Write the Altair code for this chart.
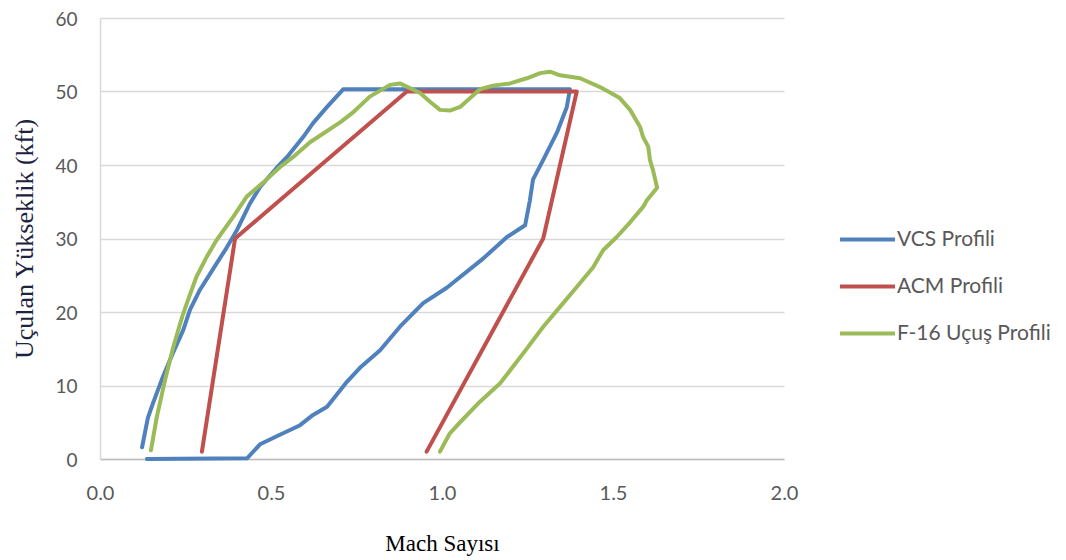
import altair as alt
import pandas as pd

series_names = ["VCS Profili", "ACM Profili", "F-16 Uçuş Profili"]
colors = ["#4F81BD", "#C0504D", "#9BBB59"]

vcs_mach = [0.123, 0.140, 0.155, 0.184, 0.213, 0.243, 0.263, 0.292, 0.330, 0.371, 0.401,
            0.439, 0.468, 0.518, 0.547, 0.594, 0.623, 0.664, 0.711, 1.374, 1.365, 1.336,
            1.296, 1.266, 1.257, 1.243, 1.190, 1.121, 1.014, 0.945, 0.877, 0.819, 0.760,
            0.722, 0.664, 0.623, 0.585, 0.526, 0.468, 0.430, 0.137]
vcs_alt = [1.6, 5.6, 7.6, 11.2, 14.4, 17.5, 20.3, 23.0, 25.8, 28.8, 31.2,
           34.8, 37.0, 39.7, 41.1, 43.8, 45.7, 47.9, 50.3, 50.3, 47.9, 44.4,
           40.7, 38.0, 35.2, 31.8, 30.2, 27.3, 23.3, 21.2, 18.0, 14.8, 12.4,
           10.5, 7.1, 6.0, 4.6, 3.3, 2.0, 0.1, 0.0]

acm_mach = [0.298, 0.395, 0.897, 1.394, 1.296, 0.955]
acm_alt = [1.0, 30.0, 50.0, 50.0, 30.0, 1.0]

f16_mach = [0.149, 0.166, 0.190, 0.214, 0.240, 0.254, 0.282, 0.312, 0.341, 0.389, 0.429,
            0.477, 0.526, 0.565, 0.614, 0.702, 0.741, 0.789, 0.848, 0.877, 0.936, 0.965,
            0.994, 1.023, 1.053, 1.111, 1.149, 1.199, 1.248, 1.287, 1.316, 1.345, 1.404,
            1.462, 1.520, 1.550, 1.579, 1.588, 1.603, 1.608, 1.617, 1.629, 1.599, 1.588,
            1.550, 1.511, 1.471, 1.442, 1.394, 1.345, 1.296, 1.238, 1.170, 1.111, 1.053,
            1.023, 0.994]
f16_alt = [1.2, 5.7, 10.7, 15.2, 19.3, 21.2, 24.8, 27.5, 29.8, 32.9, 35.7,
           37.6, 39.7, 41.1, 43.1, 45.8, 47.2, 49.3, 50.9, 51.1, 49.8, 48.6,
           47.5, 47.4, 47.9, 50.3, 50.8, 51.1, 51.8, 52.5, 52.7, 52.2, 51.8,
           50.6, 49.1, 47.5, 45.2, 43.8, 42.5, 40.7, 39.3, 36.9, 35.2, 34.3,
           32.2, 30.2, 28.4, 26.1, 23.4, 20.7, 18.0, 14.4, 10.3, 7.8, 5.0,
           3.5, 1.0]

x_ticks = [0.0, 0.5, 1.0, 1.5, 2.0]
y_ticks = [0, 10, 20, 30, 40, 50, 60]

rows = []
for name, xs, ys in zip(series_names, [vcs_mach, acm_mach, f16_mach], [vcs_alt, acm_alt, f16_alt]):
    for i, (x, y) in enumerate(zip(xs, ys)):
        rows.append({"seri": name, "mach": x, "irtifa": y, "sira": i})
df = pd.DataFrame(rows)

chart = alt.Chart(df).mark_line(strokeWidth=4, strokeJoin="round", strokeCap="round").encode(
    x=alt.X("mach:Q", scale=alt.Scale(domain=[0, 2], nice=False),
            axis=alt.Axis(values=x_ticks, format=".1f", title="Mach Sayısı", grid=False,
                          ticks=False, domainColor="#BFBFBF", domainWidth=1.5,
                          labelFlush=False, labelPadding=24, titlePadding=29,
                          titleFontSize=23)),
    y=alt.Y("irtifa:Q", scale=alt.Scale(domain=[0, 60], nice=False),
            axis=alt.Axis(values=y_ticks, title="Uçulan Yükseklik (kft)", grid=True,
                          gridColor="#D9D9D9", gridWidth=1.5, ticks=False,
                          domainColor="#D9D9D9", domainWidth=1.5, labelFlush=False,
                          labelOffset=1, labelFontSize=19,
                          labelPadding=23, titlePadding=17, titleFontSize=26)),
    color=alt.Color("seri:N", scale=alt.Scale(domain=series_names, range=colors),
                    legend=alt.Legend(title=None, orient="none", legendX=738, legendY=192,
                                      symbolType="stroke", symbolStrokeWidth=4,
                                      symbolSize=3025, labelOffset=0, rowPadding=7,
                                      labelFont="Lato", labelFontSize=21, labelLimit=400,
                                      labelColor="#595959")),
    order=alt.Order("sira:Q"),
).properties(
    width=684, height=441,
    autosize=alt.AutoSizeParams(type="none"),
    padding={"left": 92, "top": 10, "right": 272, "bottom": 100},
).configure_view(stroke=None).configure_axis(
    labelFont="Lato", labelFontSize=20, labelColor="#595959",
    titleFont="Liberation Serif", titleFontWeight="normal",
    titleColor="#000000",
).configure_axisY(titleColor="#1c2340")

chart.save("out.html", embed_options={"renderer": "svg", "actions": False})
